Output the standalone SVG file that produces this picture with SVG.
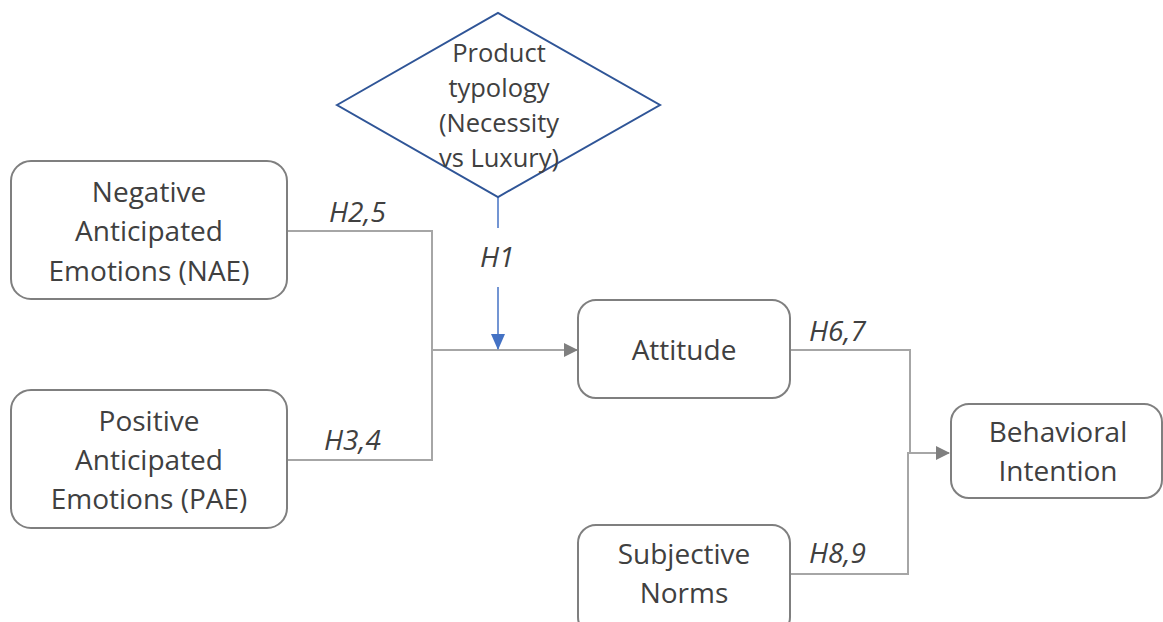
<svg xmlns="http://www.w3.org/2000/svg" width="1163" height="622" viewBox="0 0 1163 622">
  <style>
    .box { fill: #ffffff; stroke: #7f7f7f; stroke-width: 2; }
    .diamond { fill: #ffffff; stroke: #2f5597; stroke-width: 2; }
    .label { font-family: "Open Sans", "Noto Sans", sans-serif; font-size: 28px; fill: #404040; text-anchor: middle; }
    .dlabel { font-family: "Open Sans", "Noto Sans", sans-serif; font-size: 25.5px; fill: #404040; text-anchor: middle; }
    .hyp { font-family: "Open Sans", "Noto Sans", sans-serif; font-size: 28px; font-style: italic; fill: #404040; }
    .conn { fill: none; stroke: #a6a6a6; stroke-width: 2; }
    .mod { fill: none; stroke: #4472c4; stroke-width: 1.5; }
  </style>
  <defs>
    <marker id="arrowGray" markerWidth="14" markerHeight="14" refX="13" refY="7" orient="auto" markerUnits="userSpaceOnUse">
      <path d="M0,0 L14,7 L0,14 Z" fill="#7f7f7f"/>
    </marker>
    <marker id="arrowBlue" markerWidth="16" markerHeight="14" refX="15" refY="7" orient="auto" markerUnits="userSpaceOnUse">
      <path d="M0,0 L16,7 L0,14 Z" fill="#4472c4"/>
    </marker>
  </defs>
  <rect width="1163" height="622" fill="#ffffff"/>

  <!-- connectors -->
  <g id="connectors">
    <path class="conn" d="M287,231 H432 V460 H287"/>
    <path class="conn" d="M432,350 H577" marker-end="url(#arrowGray)"/>
    <path class="conn" d="M790,350 H910 V453"/>
    <path class="conn" d="M790,574 H908 V453 H949" marker-end="url(#arrowGray)"/>
    <path class="mod" d="M498,197 V228"/>
    <path class="mod" d="M498,287 V349" marker-end="url(#arrowBlue)"/>
    <text class="hyp" x="329" y="222">H2,5</text>
    <text class="hyp" x="324" y="450">H3,4</text>
    <text class="hyp" x="480" y="267">H1</text>
    <text class="hyp" x="809" y="341">H6,7</text>
    <text class="hyp" x="809" y="563">H8,9</text>
  </g>

  <g id="product-typology">
    <polygon class="diamond" points="337,105 498,13 660,105 498,197"/>
    <text class="dlabel" x="499" y="62">Product</text>
    <text class="dlabel" x="499" y="97">typology</text>
    <text class="dlabel" x="499" y="132">(Necessity</text>
    <text class="dlabel" x="499" y="167">vs Luxury)</text>
  </g>

  <g id="nae">
    <rect class="box" x="11" y="161" width="276" height="138" rx="20"/>
    <text class="label" x="149" y="202">Negative</text>
    <text class="label" x="149" y="241">Anticipated</text>
    <text class="label" x="149" y="281">Emotions (NAE)</text>
  </g>

  <g id="pae">
    <rect class="box" x="11" y="390" width="276" height="138" rx="20"/>
    <text class="label" x="149" y="431">Positive</text>
    <text class="label" x="149" y="470">Anticipated</text>
    <text class="label" x="149" y="509">Emotions (PAE)</text>
  </g>

  <g id="attitude">
    <rect class="box" x="578" y="300" width="212" height="98" rx="18"/>
    <text class="label" x="684" y="360">Attitude</text>
  </g>

  <g id="behavioral-intention">
    <rect class="box" x="951" y="404" width="211" height="94" rx="18"/>
    <text class="label" x="1058" y="442">Behavioral</text>
    <text class="label" x="1058" y="481">Intention</text>
  </g>

  <g id="subjective-norms">
    <rect class="box" x="578" y="525" width="212" height="110" rx="18"/>
    <text class="label" x="684" y="564">Subjective</text>
    <text class="label" x="684" y="603">Norms</text>
  </g>
</svg>
